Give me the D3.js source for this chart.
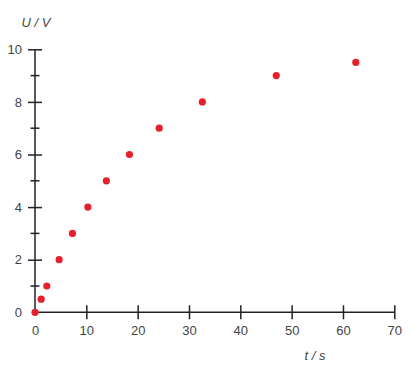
<!DOCTYPE html>
<html>
<head>
<meta charset="utf-8">
<script src="https://cdn.jsdelivr.net/npm/d3@7"></script>
<style>
  body { margin: 0; background: #fff; }
  text { font-family: "Liberation Sans", Arial, sans-serif; }
</style>
</head>
<body>
<svg id="chart" width="413" height="369"></svg>
<script>
const tValues = [0, 1.2, 2.3, 4.7, 7.3, 10.3, 13.9, 18.4, 24.2, 32.6, 47, 62.5];
const uValues = [0, 0.5, 1, 2, 3, 4, 5, 6, 7, 8, 9, 9.5];
const xTicks = [0, 10, 20, 30, 40, 50, 60, 70];
const yTicks = [0, 2, 4, 6, 8, 10];
const yMinorTicks = [1, 3, 5, 7, 9];

const svg = d3.select("#chart");

const x = d3.scaleLinear().domain([0, 70]).range([35, 394.3]);
const y = d3.scaleLinear().domain([0, 10]).range([312.3, 49.3]);

const axisColor = "#222";
const labelColor = "#444";

// x axis
const xAxis = svg.append("g")
    .attr("transform", `translate(0,${y(0)})`)
    .call(d3.axisBottom(x).tickValues(xTicks).tickSize(0).tickPadding(13));
xAxis.select(".domain").attr("stroke", axisColor).attr("stroke-width", 1.5)
    .attr("d", `M${x(0) - 2},0H${x(70)}`);
xAxis.selectAll(".tick").filter(d => d !== 0).append("line")
    .attr("y1", -7).attr("y2", 7).attr("stroke", axisColor).attr("stroke-width", 1.5);
xAxis.selectAll(".tick text").attr("fill", labelColor).attr("font-size", 13);

// y axis
const yAxis = svg.append("g")
    .attr("transform", `translate(${x(0)},0)`)
    .call(d3.axisLeft(y).tickValues(yTicks).tickSize(0).tickPadding(13));
yAxis.select(".domain").attr("stroke", axisColor).attr("stroke-width", 1.5)
    .attr("d", `M0,${y(10)}V${y(0) + 1}`);
yAxis.selectAll(".tick").filter(d => d !== 0).append("line")
    .attr("x1", -7).attr("x2", 7).attr("stroke", axisColor).attr("stroke-width", 1.5);
yAxis.selectAll(".tick text").attr("fill", labelColor).attr("font-size", 13);

yAxis.selectAll(".minor")
    .data(yMinorTicks)
    .enter()
    .append("line")
    .attr("class", "minor")
    .attr("x1", -4.5).attr("x2", 4.5)
    .attr("y1", d => y(d)).attr("y2", d => y(d))
    .attr("stroke", axisColor).attr("stroke-width", 1.5);

// axis titles
svg.append("text")
    .attr("x", 36).attr("y", 27)
    .attr("text-anchor", "middle")
    .attr("font-size", 13).attr("font-style", "italic").attr("fill", labelColor)
    .text("U / V");

svg.append("text")
    .attr("x", 315).attr("y", 360)
    .attr("text-anchor", "middle")
    .attr("font-size", 13).attr("font-style", "italic").attr("fill", labelColor)
    .text("t / s");

// points
svg.selectAll("circle.pt")
    .data(tValues.map((t, i) => ({ t, u: uValues[i] })))
    .enter()
    .append("circle")
    .attr("class", "pt")
    .attr("cx", d => x(d.t))
    .attr("cy", d => y(d.u))
    .attr("r", 3.6)
    .attr("fill", "#e5202a");
</script>
</body>
</html>
